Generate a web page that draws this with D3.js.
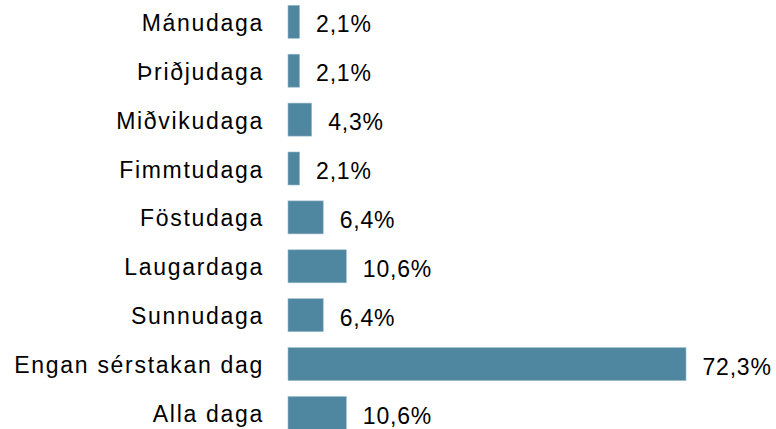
<!DOCTYPE html>
<html><head><meta charset="utf-8">
<script src="https://cdn.jsdelivr.net/npm/d3@7"></script>
<style>body{margin:0;background:#fff}svg{display:block}</style>
</head><body>
<svg id="c" width="776" height="429"></svg>
<script>
const categories = ["Mánudaga","Þriðjudaga","Miðvikudaga","Fimmtudaga","Föstudaga","Laugardaga","Sunnudaga","Engan sérstakan dag","Alla daga"];
const values = [2.1,2.1,4.3,2.1,6.4,10.6,6.4,72.3,10.6];
const valueLabels = ["2,1%","2,1%","4,3%","2,1%","6,4%","10,6%","6,4%","72,3%","10,6%"];

const svg = d3.select("#c");
const x = d3.scaleLinear().domain([0, 72.3]).range([288, 686]);
const y = d3.scaleBand().domain(categories).range([-2.65, 437.45]).paddingInner(0.325).paddingOuter(0.1625);

const font = "'Liberation Sans', Arial, sans-serif";
svg.selectAll("rect.bar").data(categories).join("rect")
  .attr("class","bar")
  .attr("x", x(0))
  .attr("y", d => y(d))
  .attr("width", (d,i) => x(values[i]) - x(0))
  .attr("height", y.bandwidth())
  .attr("fill", "#4f87a1")
  .attr("stroke", "#9dbccb").attr("stroke-width", 0.6);

svg.selectAll("text.cat").data(categories).join("text")
  .attr("class","cat")
  .attr("x", 264)
  .attr("y", d => y(d) + y.bandwidth()/2 + 9)
  .attr("text-anchor","end")
  .style("font-family", font).style("font-size","23px").style("letter-spacing","1.7px")
  .attr("fill","#000")
  .text(d => d);

svg.selectAll("text.val").data(categories).join("text")
  .attr("class","val")
  .attr("x", (d,i) => x(values[i]) + 16.5)
  .attr("y", d => y(d) + y.bandwidth()/2 + 10.5)
  .style("font-family", font).style("font-size","23px").style("letter-spacing","0.8px")
  .attr("fill","#000")
  .text((d,i) => valueLabels[i]);
</script>
</body></html>
